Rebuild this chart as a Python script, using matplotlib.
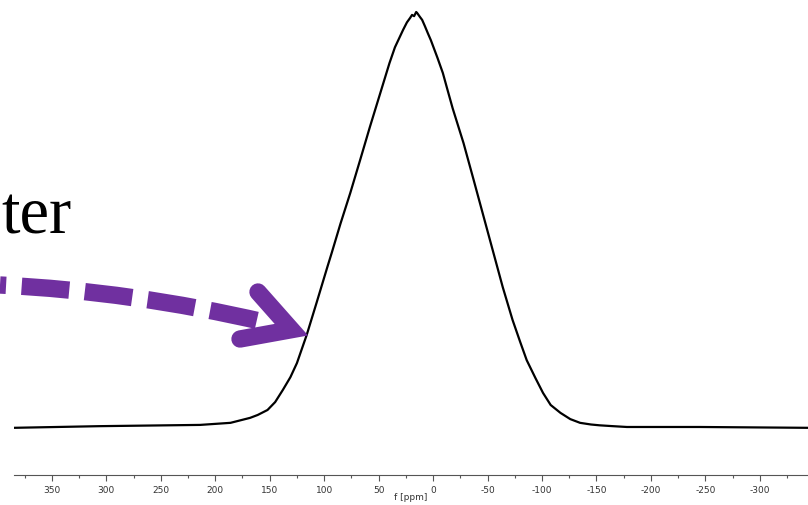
import numpy as np
import matplotlib
matplotlib.use('Agg')
import matplotlib.pyplot as plt
from matplotlib.lines import Line2D
from matplotlib.transforms import IdentityTransform
from matplotlib.ticker import MultipleLocator

plt.rcParams['axes.unicode_minus'] = False

# spectrum: chemical shift (ppm) and relative intensity
ppm = [385, 306, 214, 186, 168, 161, 152, 145, 138, 131, 125, 116, 107, 97, 93, 85,
       76, 67, 58, 49, 40, 35, 30, 27.5, 24, 21, 19.3, 17.4, 15.5, 14.7, 12, 10,
       7.5, 4.8, 2, 0, -4, -9, -13, -18, -28, -37, -46, -55, -64, -73, -80, -86,
       -94, -101, -108, -117, -126, -135, -145, -153, -165, -178, -245, -344]
intensity = [-0.002, 0.002, 0.005, 0.010, 0.022, 0.029, 0.041, 0.060, 0.089, 0.120,
             0.154, 0.222, 0.299, 0.386, 0.420, 0.490, 0.564, 0.643, 0.723, 0.800,
             0.877, 0.915, 0.943, 0.957, 0.975, 0.986, 0.993, 0.990, 1.000, 0.998,
             0.988, 0.981, 0.966, 0.949, 0.932, 0.918, 0.890, 0.853, 0.815, 0.768,
             0.684, 0.598, 0.511, 0.424, 0.337, 0.258, 0.205, 0.161, 0.118, 0.082,
             0.053, 0.034, 0.019, 0.010, 0.006, 0.004, 0.002, 0.000, 0.000, -0.002]

label_text = 'ter'
xlabel = 'f [ppm]'
purple = '#7030A0'

fig = plt.figure(figsize=(8.08, 5.05), dpi=100)
ax = fig.add_axes([14/808, 30/505, 794/808, 470/505])

ax.plot(ppm, intensity, color='black', lw=1.6, solid_joinstyle='round')

ax.set_xlim(384.8, -344.3)
ax.set_ylim(-0.1157, 1.0169)
ax.xaxis.set_major_locator(MultipleLocator(50))
ax.xaxis.set_minor_locator(MultipleLocator(25))
ax.tick_params(axis='x', which='major', length=4, width=0.8, color='#555555',
               labelsize=6.5, labelcolor='#333333', pad=4)
ax.tick_params(axis='x', which='minor', length=2, width=0.8, color='#555555')
ax.set_yticks([])
for s in ['left', 'right', 'top']:
    ax.spines[s].set_visible(False)
ax.spines['bottom'].set_color('#555555')
ax.spines['bottom'].set_linewidth(0.8)
ax.set_xlabel(xlabel, fontsize=6.5, color='#333333', va='center')
ax.xaxis.set_label_coords(0.5, -22/470)

# big serif word on the left
fig.text(72/808, 1 - 233/505, label_text, fontsize=48, family='Liberation Serif',
         ha='right', va='baseline')

# dashed curved arrow shaft (figure pixels, origin bottom-left)
ax.annotate('', xy=(264, 505 - 322), xycoords='figure pixels',
            xytext=(0, 505 - 285), textcoords='figure pixels',
            annotation_clip=False,
            arrowprops=dict(arrowstyle='-', color=purple, lw=12.5,
                            linestyle=(2.4, (2.75, 0.9)), capstyle='butt',
                            shrinkA=0, shrinkB=0,
                            connectionstyle='arc3,rad=-0.045'))

# open chevron head
head = Line2D([258, 291.4, 240], [505 - 292, 505 - 329.7, 505 - 339],
              transform=IdentityTransform(), color=purple, lw=12.5,
              solid_capstyle='round', solid_joinstyle='miter')
fig.add_artist(head)

fig.savefig('out.png', dpi=100)
